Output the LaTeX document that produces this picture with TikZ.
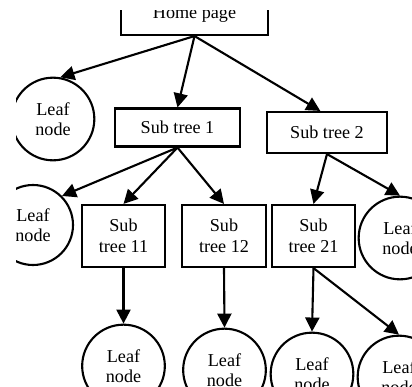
\documentclass[tikz,border=0pt]{standalone}
\usepackage{fontspec}
\setmainfont{Liberation Serif}
\usetikzlibrary{arrows.meta}

\begin{document}
\begin{tikzpicture}[
    x=0.03cm, y=-0.03cm,
    page/.style={rectangle, draw=black, line width=1.8pt, align=center, inner sep=0pt, font=\fontsize{15.5}{17.5}\selectfont},
    leaf/.style={circle, draw=black, line width=1.8pt, align=center, inner sep=0pt, minimum size=2.48cm, font=\fontsize{15.5}{17.5}\selectfont},
    link/.style={-{Triangle[length=12pt, width=12pt]}, line width=1.8pt, draw=black}
]
    \useasboundingbox (0,0) rectangle (412,387);
    \clip (16,10) rectangle (412,387);

    % Define Nodes
    \node[page, minimum width=4.41cm, minimum height=1.23cm] (home) at (194.5,14.5) {Home page};
    \node[leaf] (leafA) at (53,119) {Leaf\\node};
    \node[page, minimum width=3.75cm, minimum height=1.14cm] (st1) at (177.5,127.5) {Sub tree 1};
    \node[page, minimum width=3.6cm, minimum height=1.23cm] (st2) at (327,132.5) {Sub tree 2};

    \node[leaf, minimum size=2.4cm] (leafB) at (33,225) {Leaf\\node};
    \node[page, minimum width=2.49cm, minimum height=1.86cm] (st11) at (123.5,236) {Sub\\tree 11};
    \node[page, minimum width=2.52cm, minimum height=1.86cm] (st12) at (224,236) {Sub\\tree 12};
    \node[page, minimum width=2.49cm, minimum height=1.86cm] (st21) at (313.5,236) {Sub\\tree 21};
    \node[leaf] (leafC) at (400,238) {Leaf\\node};

    \node[leaf] (leafD) at (123.5,366) {Leaf\\node};
    \node[leaf] (leafE) at (224.5,370) {Leaf\\node};
    \node[leaf] (leafF) at (312,374) {Leaf\\node};
    \node[leaf] (leafG) at (399,377) {Leaf\\node};

    % Draw Edges
    \draw[link] (home.south) -- (leafA.80);
    \draw[link] (home.south) -- (st1.north);
    \draw[link] (home.south) -- ([xshift=-0.2cm]st2.north);

    \draw[link] (st1.south) -- (leafB.45);
    \draw[link] (st1.south) -- (st11.north);
    \draw[link] (st1.south) -- (st12.north);
    \draw[link] (st2.south) -- (st21.north);
    \draw[link] (st2.south) -- (leafC.north);

    \draw[link] (st11.south) -- (leafD.north);
    \draw[link] (st12.south) -- (leafE.north);
    \draw[link] (st21.south) -- (leafF.north);
    \draw[link] (st21.south) -- (leafG.north);
\end{tikzpicture}
\end{document}
